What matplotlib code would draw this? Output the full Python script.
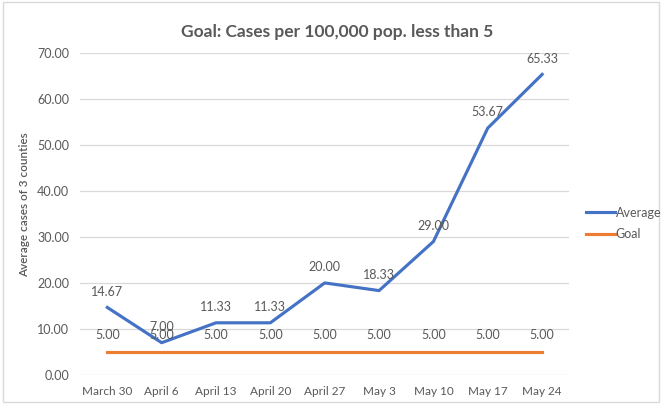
import matplotlib.pyplot as plt
import matplotlib.patches as mpatches

weeks = ['March 30', 'April 6', 'April 13', 'April 20', 'April 27',
         'May 3', 'May 10', 'May 17', 'May 24']
average = [14.67, 7.00, 11.33, 11.33, 20.00, 18.33, 29.00, 53.67, 65.33]
goal = [5.00] * 9

plt.rcParams['font.family'] = ['Lato', 'DejaVu Sans']
txt = '#595959'

fig = plt.figure(figsize=(6.62, 4.04), dpi=100)
ax = fig.add_axes([0.121, 0.072, 0.739, 0.797])

x = list(range(len(weeks)))
ax.plot(x, average, color='#4472C4', lw=2.25, label='Average')
ax.plot(x, goal, color='#ED7D31', lw=2.25, label='Goal')

for i in x:
    ax.annotate(f'{average[i]:.2f}', (i, average[i]), xytext=(0, 7),
                textcoords='offset points', ha='center', va='bottom',
                fontsize=9, color=txt)
    ax.annotate(f'{goal[i]:.2f}', (i, goal[i]), xytext=(0, 8),
                textcoords='offset points', ha='center', va='bottom',
                fontsize=9, color=txt)

ax.set_xlim(-0.5, len(weeks) - 0.5)
ax.set_ylim(0, 70)
ax.set_yticks(range(0, 71, 10))
ax.set_yticklabels([f'{v:.2f}' for v in range(0, 71, 10)])
ax.set_xticks(x)
ax.set_xticklabels(weeks)
ax.tick_params(length=0, labelsize=9, colors=txt, pad=8)
ax.tick_params(axis='x', labelsize=8.5)
ax.grid(axis='y', color='#D9D9D9', lw=0.9)
ax.set_axisbelow(True)
for s in ax.spines.values():
    s.set_visible(False)

ax.set_ylabel('Average cases of 3 counties', fontsize=8.5, color=txt,
              fontweight='semibold')
ax.yaxis.set_label_coords(-0.103, 0.53)
fig.text(0.51, 0.922, 'Goal: Cases per 100,000 pop. less than 5',
         ha='center', va='center', fontsize=12.5, fontweight='bold', color=txt)

fig.legend(loc='center left', bbox_to_anchor=(0.885, 0.447), frameon=False,
           fontsize=9, handlelength=2.3, handletextpad=0.1, labelspacing=0.75,
           borderpad=0, borderaxespad=0, labelcolor=txt)

fig.patches.append(mpatches.Rectangle((0.004, 0.004), 0.992, 0.99,
                                      transform=fig.transFigure, fill=False,
                                      edgecolor='#D9D9D9', lw=1))

fig.savefig('out.png', dpi=100)
